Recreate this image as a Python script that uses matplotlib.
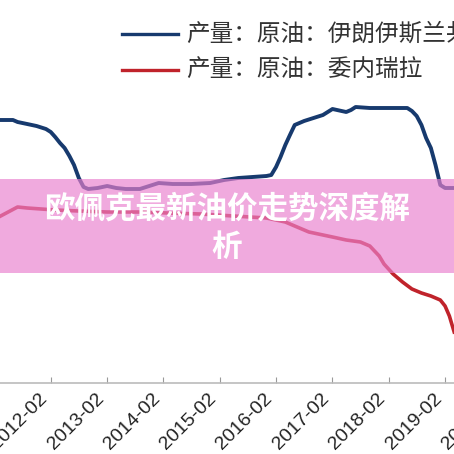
import pandas as pd
import matplotlib
matplotlib.use('Agg')
import matplotlib.pyplot as plt
import matplotlib.dates as mdates
from matplotlib.lines import Line2D
from matplotlib.patches import Rectangle

plt.rcParams['font.family'] = ['Liberation Sans', 'DejaVu Sans']
CJK = ['Noto Sans CJK SC', 'DejaVu Sans']

# Iran crude output (est.), unit roughly 10k bbl/day
iran_dates = ['2011-03', '2011-06', '2011-07', '2011-09', '2011-11', '2012-01', '2012-02',
              '2012-03', '2012-04', '2012-05', '2012-06', '2012-07', '2012-08', '2012-09',
              '2012-10', '2012-12', '2013-02', '2013-04', '2013-06', '2013-09', '2013-11',
              '2014-01', '2014-04', '2014-08', '2014-12', '2015-03', '2015-06', '2015-09',
              '2015-12', '2016-01', '2016-02', '2016-03', '2016-04', '2016-05', '2016-06',
              '2016-08', '2016-10', '2016-12', '2017-02', '2017-04', '2017-05', '2017-06',
              '2017-07', '2017-10', '2018-01', '2018-04', '2018-06', '2018-07', '2018-08',
              '2018-09', '2018-10', '2018-11', '2018-12', '2019-01', '2019-02', '2019-03',
              '2019-04']
iran_vals = [350, 350, 348, 346, 344, 341, 338,
             333, 327, 322, 314, 305, 292, 283,
             281, 282, 284, 282, 281, 281, 284,
             287, 286, 286, 287, 290, 292, 293,
             294, 295, 303, 313, 325, 335, 345,
             349, 352, 355, 361, 359, 358, 360,
             363, 362, 362, 362, 362, 359, 354,
             345, 332, 322, 305, 285, 282, 282,
             282]

# Venezuela crude output (est.)
ven_dates = ['2011-03', '2011-05', '2011-07', '2011-09', '2011-12', '2012-03', '2012-08',
             '2013-02', '2013-09', '2014-03', '2014-10', '2015-05', '2015-12', '2016-04',
             '2016-06', '2016-09', '2017-02', '2017-05', '2017-08', '2017-10', '2017-12',
             '2018-01', '2018-03', '2018-05', '2018-07', '2018-09', '2018-11', '2019-01',
             '2019-02', '2019-03', '2019-04']
ven_vals = [253, 258, 263, 262, 261, 260, 259,
            258, 258, 257, 256, 254, 252, 248,
            244, 238, 233, 230, 228, 224, 214,
            206, 196, 188, 181, 177, 174, 170,
            164, 154, 138]

legend_labels = ['产量：原油：伊朗伊斯兰共和国', '产量：原油：委内瑞拉']
title_lines = ['欧佩克最新油价走势深度解', '析']

blue = '#173a6e'
red = '#c0232b'

fig = plt.figure(figsize=(4.54, 4.54), dpi=100)
# axes run past the right edge of the picture, as in the cropped original
ax = fig.add_axes([0, 71 / 454, 514 / 454, 383 / 454])

ax.plot(pd.to_datetime(iran_dates), iran_vals, color=blue, lw=2.8, solid_joinstyle='round')
ax.plot(pd.to_datetime(ven_dates), ven_vals, color=red, lw=2.6, solid_joinstyle='round')

ax.set_xlim(pd.Timestamp('2011-03-09'), pd.Timestamp('2020-04-23'))
ax.set_ylim(87, 470)

ax.xaxis.set_major_locator(mdates.MonthLocator(bymonth=2))
ax.xaxis.set_major_formatter(mdates.DateFormatter('%Y-%m'))
for lab in ax.get_xticklabels():
    lab.set_rotation(45)
    lab.set_ha('right')
ax.tick_params(axis='x', direction='in', length=4, color='#999999', labelsize=14,
               labelcolor='#222222', pad=5)
ax.tick_params(axis='y', left=False, labelleft=False)
for s in ['left', 'right', 'top']:
    ax.spines[s].set_visible(False)
ax.spines['bottom'].set_color('#bbbbbb')
ax.spines['bottom'].set_linewidth(1.2)

# legend at top
for i, (lab, col) in enumerate(zip(legend_labels, [blue, red])):
    yy = 1 - (34 + 36 * i) / 454
    fig.add_artist(Line2D([122 / 454, 178 / 454], [yy, yy], color=col, lw=2.4,
                          transform=fig.transFigure))
    fig.text(186 / 454, yy, lab, family=CJK, fontsize=17, color='#333333',
             va='center', ha='left')

# pink banner with title
fig.add_artist(Rectangle((0, 1 - 273 / 454), 1, 94 / 454, transform=fig.transFigure,
                         facecolor='#e980ce', alpha=0.67, edgecolor='none'))
fig.text(0.5, 1 - 209 / 454, title_lines[0], family=CJK, fontsize=22, fontweight='bold',
         color='white', ha='center', va='center')
fig.text(0.5, 1 - 247 / 454, title_lines[1], family=CJK, fontsize=22, fontweight='bold',
         color='white', ha='center', va='center')

fig.savefig('out.png', dpi=100)
